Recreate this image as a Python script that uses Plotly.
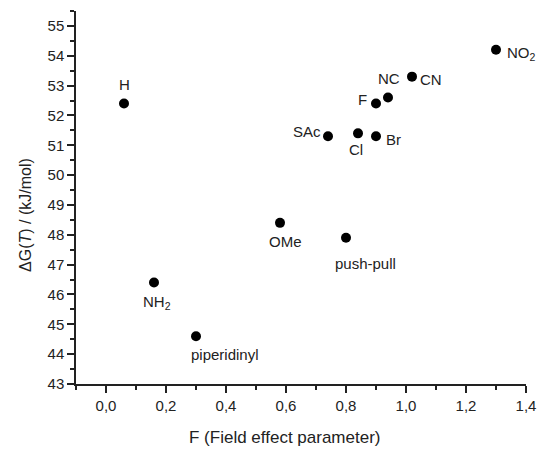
import plotly.graph_objects as go

# Data
labels = ["H", "NH<sub>2</sub>", "piperidinyl", "OMe", "push-pull", "SAc",
          "Cl", "Br", "F", "NC", "CN", "NO<sub>2</sub>"]
field_F = [0.06, 0.16, 0.30, 0.58, 0.80, 0.74, 0.84, 0.90, 0.90, 0.94, 1.02, 1.30]
delta_G = [52.4, 46.4, 44.6, 48.4, 47.9, 51.3, 51.4, 51.3, 52.4, 52.6, 53.3, 54.2]

x_tickvals = [0.0, 0.2, 0.4, 0.6, 0.8, 1.0, 1.2, 1.4]
x_ticktext = ["0,0", "0,2", "0,4", "0,6", "0,8", "1,0", "1,2", "1,4"]
y_tickvals = list(range(43, 56))

x_title = "F (Field effect parameter)"
y_title = "ΔG(<i>T</i>) / (kJ/mol)"

# Label placement (anchor, x shift px, y shift px) - styling only
label_style = [
    ("center", 0, 19),
    ("center", 3, -20),
    ("center", 29, -18),
    ("center", 5, -19),
    ("center", 19, -26),
    ("right", -5, 5),
    ("center", -2, -16),
    ("left", 8, -3),
    ("right", -7, 4),
    ("center", 1, 19),
    ("left", 6, -3),
    ("left", 9, -4),
]

FONT = "Liberation Sans, Arial, sans-serif"
TXT = "#222"

fig = go.Figure()
fig.add_trace(go.Scatter(
    x=field_F, y=delta_G, mode="markers",
    marker=dict(color="black", size=10),
    showlegend=False, hoverinfo="skip",
))

for txt, xv, yv, (anc, dx, dy) in zip(labels, field_F, delta_G, label_style):
    fig.add_annotation(x=xv, y=yv, text=txt, showarrow=False,
                       xanchor=anc, yanchor="middle", xshift=dx, yshift=dy,
                       font=dict(family=FONT, size=15, color=TXT))

axis_common = dict(
    showline=True, linecolor="#222", linewidth=1.5, mirror=False,
    ticks="outside", ticklen=7, tickwidth=1.5, tickcolor="#222",
    showgrid=False, zeroline=False,
    tickfont=dict(family=FONT, size=15, color=TXT),
)

fig.update_xaxes(
    range=[-0.1, 1.4], tickvals=x_tickvals, ticktext=x_ticktext,
    minor=dict(dtick=0.1, tick0=0, ticks="outside", ticklen=4, tickwidth=1.5, tickcolor="#222"),
    **axis_common,
)
fig.update_yaxes(
    range=[43, 55.5], tickvals=y_tickvals,
    minor=dict(dtick=0.5, tick0=43, ticks="outside", ticklen=4, tickwidth=1.5, tickcolor="#222"),
    **axis_common,
)

# Axis titles as annotations (positioned like the reference)
fig.add_annotation(xref="paper", yref="paper", x=(289 - 76) / (535 - 76),
                   y=-(437 - 384) / (384 - 11), text=x_title, showarrow=False,
                   xanchor="center", yanchor="middle",
                   font=dict(family=FONT, size=17, color=TXT))
fig.add_annotation(xref="paper", yref="paper", x=-(76 - 25) / (535 - 76),
                   y=(384 - 215) / (384 - 11), text=y_title, showarrow=False,
                   textangle=-90, xanchor="center", yanchor="middle",
                   font=dict(family=FONT, size=16, color=TXT))

fig.update_layout(
    width=547, height=449,
    margin=dict(l=76, r=12, t=11, b=65),
    plot_bgcolor="white", paper_bgcolor="white",
)

fig.write_html("out.html")
